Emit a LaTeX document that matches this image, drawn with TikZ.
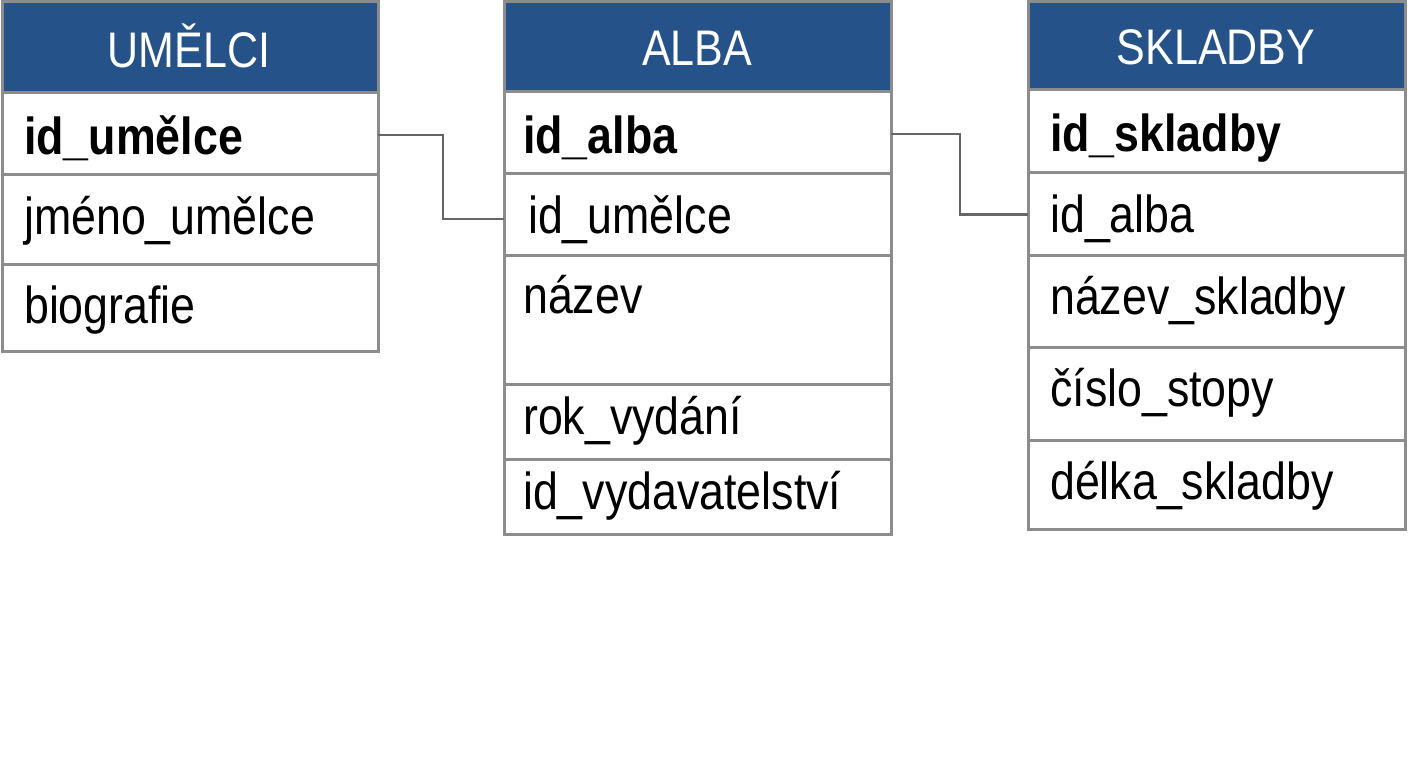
\documentclass[tikz,border=0pt]{standalone}
\usepackage{fontspec}
\setmainfont[FakeStretch=0.86]{Liberation Sans}
\definecolor{hdrblue}{HTML}{255288}
\definecolor{bordergray}{HTML}{8C8C8C}
\definecolor{conngray}{HTML}{666666}
\begin{document}
\begin{tikzpicture}[x=1pt,y=-1pt,
  hdr/.style={draw=bordergray, line width=3pt, fill=hdrblue, rectangle, inner sep=0pt, outer sep=0pt, anchor=north west},
  rowbox/.style={draw=bordergray, line width=3pt, fill=white, rectangle, inner sep=0pt, outer sep=0pt, anchor=north west},
  title/.style={anchor=base, text=white, inner sep=0pt, font=\fontsize{50}{52}\selectfont},
  fld/.style={anchor=base west, inner sep=0pt, font=\fontsize{52}{56}\selectfont},
  key/.style={fld, font=\fontsize{52}{56}\selectfont\bfseries},
  conn/.style={draw=conngray, line width=2.5pt}]
\useasboundingbox (0,0) rectangle (1408,768);

% ---- UMELCI ----
\node[hdr, minimum width=376pt, minimum height=90pt] (uh) at (2,2) {};
\node[rowbox, minimum width=376pt, minimum height=82pt] (u1) at (2,92) {};
\node[rowbox, minimum width=376pt, minimum height=90pt] (u2) at (2,174) {};
\node[rowbox, minimum width=376pt, minimum height=87pt] (u3) at (2,264) {};
\node[title] (uht) at (189,67) {UMĚLCI};
\node[key] (u1t) at (24,154) {id\_umělce};
\node[fld] (u2t) at (24,234) {jméno\_umělce};
\node[fld] (u3t) at (24,323) {biografie};

% ---- ALBA ----
\node[hdr, minimum width=387pt, minimum height=89pt] (ah) at (504,2) {};
\node[rowbox, minimum width=387pt, minimum height=82pt] (a1) at (504,91) {};
\node[rowbox, minimum width=387pt, minimum height=82pt] (a2) at (504,173) {};
\node[rowbox, minimum width=387pt, minimum height=129pt] (a3) at (504,255) {};
\node[rowbox, minimum width=387pt, minimum height=75pt] (a4) at (504,384) {};
\node[rowbox, minimum width=387pt, minimum height=75pt] (a5) at (504,459) {};
\node[title] (aht) at (697,66) {ALBA};
\node[key] (a1t) at (523,153) {id\_alba};
\node[fld] (a2t) at (528,233) {id\_umělce};
\node[fld] (a3t) at (523,313) {název};
\node[fld] (a4t) at (523,434) {rok\_vydání};
\node[fld] (a5t) at (523,509) {id\_vydavatelství};

% ---- SKLADBY ----
\node[hdr, minimum width=377pt, minimum height=87pt] (sh) at (1028,2) {};
\node[rowbox, minimum width=377pt, minimum height=83pt] (s1) at (1028,89) {};
\node[rowbox, minimum width=377pt, minimum height=83pt] (s2) at (1028,172) {};
\node[rowbox, minimum width=377pt, minimum height=92pt] (s3) at (1028,255) {};
\node[rowbox, minimum width=377pt, minimum height=93pt] (s4) at (1028,347) {};
\node[rowbox, minimum width=377pt, minimum height=89pt] (s5) at (1028,440) {};
\node[title] (sht) at (1216,65) {SKLADBY};
\node[key] (s1t) at (1050,151) {id\_skladby};
\node[fld] (s2t) at (1050,232) {id\_alba};
\node[fld] (s3t) at (1050,314) {název\_skladby};
\node[fld] (s4t) at (1050,406) {číslo\_stopy};
\node[fld] (s5t) at (1050,499) {délka\_skladby};

% ---- connectors ----
\draw[conn] ([yshift=-2pt]u1.east) -- ++(65,0) |- ([yshift=-5pt]a2.west);
\draw[conn] ([yshift=-2pt]a1.east) -- ++(69,0) |- ([yshift=-1pt]s2.west);
\end{tikzpicture}
\end{document}
